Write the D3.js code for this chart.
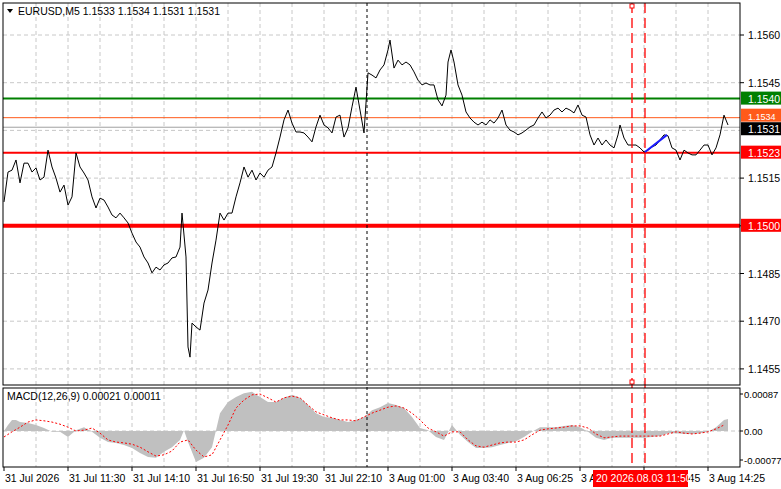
<!DOCTYPE html>
<html><head><meta charset="utf-8">
<script src="https://cdn.jsdelivr.net/npm/d3@7"></script>
<style>body{margin:0;background:#fff}svg{display:block;font-family:"Liberation Sans",Arial,sans-serif}</style>
</head><body><svg id="c" width="781" height="489"></svg>
<script>
const header = "EURUSD,M5  1.1533 1.1534 1.1531 1.1531";
const macdTitle = "MACD(12,26,9) 0.00021 0.00011";
const priceTicks = [1.1560,1.1545,1.1530,1.1515,1.1500,1.1485,1.1470,1.1455];
const macdTicks = [[87,"0.00087"],[0,"0.00"],[-77,"-0.00077"]];
const timeLabels = ["31 Jul 2026","31 Jul 11:30","31 Jul 14:10","31 Jul 16:50","31 Jul 19:30","31 Jul 22:10","3 Aug 01:00","3 Aug 03:40","3 Aug 06:25","3 Aug 09:05","3 Aug 11:45","3 Aug 14:25"];
const levels = [
 {p:1.1540,c:"#008000",w:2,lab:"1.1540",bg:"#008000",fg:"#fff"},
 {p:1.1534,c:"#ff5a1a",w:1,lab:"1.1534",bg:"#ff5a1a",fg:"#fff"},
 {p:1.1531,c:"#a0a0a0",w:1,lab:"1.1531",bg:"#000",fg:"#fff"},
 {p:1.1523,c:"#ff0000",w:2,lab:"1.1523",bg:"#ff0000",fg:"#fff"},
 {p:1.1500,c:"#ff0000",w:4,lab:"1.1500",bg:"#ff0000",fg:"#fff"}];
// [bar index, close]
const price = [[0,1.15075],[2,1.15169],[4,1.15175],[6,1.15207],[8,1.15135],[10,1.15197],[12,1.15197],[14,1.15169],[16,1.15182],[18,1.15144],[20,1.15153],[22,1.15238],[24,1.15185],[26,1.1515],[28,1.15106],[30,1.15128],[32,1.15065],[34,1.15091],[36,1.15229],[38,1.15185],[40,1.15166],[42,1.15144],[44,1.15091],[46,1.15056],[48,1.15087],[50,1.15081],[52,1.15059],[54,1.15034],[56,1.15025],[58,1.1504],[60,1.15025],[62,1.15009],[64,1.14977],[66,1.14949],[68,1.14933],[70,1.14902],[72,1.14883],[74,1.14852],[76,1.1487],[78,1.14861],[80,1.14877],[82,1.14883],[84,1.14899],[86,1.14902],[88,1.14933],
[89,1.1504],[91,1.14902],[92,1.14619],[93,1.14587],[94,1.14694],[96,1.14682],[98,1.14672],[100,1.14757],[102,1.14798],[104,1.14883],[106,1.14955],[108,1.1504],[110,1.15018],[112,1.1504],[114,1.1504],[116,1.15091],[118,1.15135],[120,1.15185],[122,1.15153],[124,1.15175],[126,1.15144],[128,1.15166],[130,1.15153],[132,1.15175],[134,1.15185],[136,1.15229],[138,1.15279],[140,1.15333],[142,1.15364],[144,1.15323],[146,1.15295],[148,1.15295],[150,1.15292],[152,1.15279],[154,1.15264],[156,1.15311],[158,1.15348],[160,1.15317],[162,1.15308],[164,1.15292],[166,1.15342],[168,1.15348],[170,1.15279],[172,1.15308],[174,1.15374],[176,1.15436],[178,1.15364],[180,1.15292],[182,1.15481],[184,1.15474],[186,1.15465],[188,1.1549],[190,1.15506],[192,1.15553],[193,1.15584],[195,1.15496],[197,1.15521],[199,1.15506],[201,1.15515],[203,1.15506],[205,1.15484],[207,1.15458],[209,1.15443],[211,1.15449],[213,1.15443],[215,1.15443],[217,1.15396],[219,1.15377],[221,1.15411],[222,1.15515],[223.5,1.15553],
[225,1.15515],[227,1.15443],[229,1.15411],[231,1.15358],[233,1.15339],[235,1.15326],[237,1.15317],[239,1.15326],[241,1.15317],[243,1.15333],[245,1.15323],[247,1.15339],[249,1.15364],[251,1.15317],[253,1.15301],[255,1.15295],[257,1.15286],[259,1.15292],[261,1.15301],[263,1.15311],[265,1.15317],[267,1.15339],[269,1.15358],[271,1.15339],[273,1.15348],[275,1.15364],[277,1.1537],[279,1.15358],[281,1.1537],[283,1.15364],[285,1.15355],[287,1.1538],[289,1.15348],[291,1.15342],[293,1.15286],[295,1.15254],[297,1.15276],[299,1.15254],[301,1.1527],[303,1.15254],[305,1.15245],
[307,1.15286],[308,1.15317],[310,1.15276],[312,1.15254],[314,1.15254],[316,1.15254],[318,1.15245],[320,1.15232],[322,1.15238],[324,1.15248],[326,1.15254],[328,1.1527],[330,1.15286],[332,1.15283],[334,1.15245],[336,1.15238],[338,1.15207],[340,1.15238],[342,1.15229],[344,1.15223],[346,1.15223],[348,1.15238],[350,1.15254],[352,1.15254],[354,1.15223],[356,1.15245],[358,1.15286],[360,1.15348],[362,1.15317]];
const blueLine = [[320.5,1.15232],[331.5,1.15286]];
// MACD in units of 1e-5
const hist = [[0,0],[2,14],[4,26],[6,26],[8,21],[12,19],[16,14],[20,7],[24,-2],[28,-2],[32,-14],[36,2],[40,9],[44,-2],[48,-16],[52,-26],[56,-28],[60,-33],[64,-40],[68,-52],[72,-61],[76,-63],[80,-49],[84,-38],[88,-21],[90,2],[92,-26],[96,-73],[100,-63],[104,-38],[106,2],[108,42],[112,68],[116,80],[120,89],[124,92],[128,80],[132,68],[136,68],[140,78],[144,85],[148,78],[152,61],[156,42],[160,33],[164,31],[168,26],[172,21],[176,26],[180,33],[184,49],[188,56],[192,66],[196,61],[200,54],[204,33],[208,7],[212,2],[216,-14],[220,-21],[224,14],[228,-9],[232,-26],[236,-40],[240,-40],[244,-38],[248,-33],[252,-28],[256,-24],[260,-14],[264,-2],[268,9],[272,9],[276,9],[280,12],[284,14],[288,9],[292,-2],[296,-16],[300,-21],[304,-16],[308,-16],[312,-16],[316,-16],[320,-16],[324,-14],[328,-12],[332,-5],[336,-5],[340,-7],[344,-7],[348,-5],[352,-2],[356,9],[360,26],[362,28]];
const signal = [[0,-14],[4,-2],[8,9],[12,21],[16,26],[20,24],[24,21],[28,16],[32,9],[36,0],[40,2],[44,7],[48,-5],[52,-21],[56,-26],[60,-28],[64,-31],[68,-38],[72,-49],[76,-59],[80,-56],[84,-47],[88,-26],[92,-21],[96,-45],[100,-61],[104,-56],[108,-21],[112,14],[116,54],[120,73],[124,85],[128,87],[132,78],[136,68],[140,78],[144,82],[148,78],[152,61],[156,45],[160,38],[164,31],[168,26],[172,26],[176,24],[180,33],[184,42],[188,49],[192,56],[196,59],[200,54],[204,42],[208,26],[212,7],[216,-2],[220,-12],[224,-2],[228,-2],[232,-21],[236,-35],[240,-38],[244,-33],[248,-28],[252,-26],[256,-26],[260,-21],[264,-9],[268,2],[272,5],[276,7],[280,9],[284,12],[288,12],[292,7],[296,-7],[300,-16],[304,-14],[308,-12],[312,-12],[316,-12],[320,-12],[324,-12],[328,-12],[332,-7],[336,-2],[340,-5],[344,-7],[348,-5],[352,-2],[356,5],[360,14]];
const vlinesRed = [314, 320.5];
const vlineBlack = 181.5;
const timeBox = "20 2026.08.03 11:50";

const svg = d3.select("#c");
const L=3,R=740,T=3,B1=385,T2=388,B2=467;
const x = d3.scaleLinear().domain([0,368]).range([4,740]);
const y = d3.scaleLinear().domain([1.1560,1.1455]).range([35,368.9]);
const ym = d3.scaleLinear().domain([87,0]).range([394,431]);
const grid = "#c8c8c8";
for(let b=16;b<368;b+=16){
  svg.append("line").attr("x1",x(b)).attr("x2",x(b)).attr("y1",T).attr("y2",B1).attr("stroke",grid).attr("stroke-dasharray","4,3");
  svg.append("line").attr("x1",x(b)).attr("x2",x(b)).attr("y1",T2).attr("y2",B2).attr("stroke",grid).attr("stroke-dasharray","4,3");
}
priceTicks.forEach(p=>svg.append("line").attr("x1",L).attr("x2",R).attr("y1",y(p)).attr("y2",y(p)).attr("stroke",grid).attr("stroke-dasharray","4,3"));
svg.append("line").attr("x1",L).attr("x2",R).attr("y1",ym(0)).attr("y2",ym(0)).attr("stroke",grid).attr("stroke-dasharray","4,3");
levels.forEach(l=>svg.append("line").attr("x1",L).attr("x2",R).attr("y1",y(l.p)).attr("y2",y(l.p)).attr("stroke",l.c).attr("stroke-width",l.w));
svg.append("path").datum(hist).attr("d",d3.area().x(d=>x(d[0])).y0(ym(0)).y1(d=>ym(d[1]))).attr("fill","#c0c0c0");
svg.append("path").datum(signal).attr("d",d3.line().x(d=>x(d[0])).y(d=>ym(d[1]))).attr("fill","none").attr("stroke","#ff0000").attr("stroke-dasharray","2,2");
svg.append("path").datum(price).attr("d",d3.line().x(d=>x(d[0])).y(d=>y(d[1]))).attr("fill","none").attr("stroke","#000").attr("stroke-width",1);
svg.append("path").datum(blueLine).attr("d",d3.line().x(d=>x(d[0])).y(d=>y(d[1]))).attr("fill","none").attr("stroke","#1a1aff").attr("stroke-width",2);
svg.append("line").attr("x1",x(vlineBlack)).attr("x2",x(vlineBlack)).attr("y1",T).attr("y2",B2).attr("stroke","#000").attr("stroke-dasharray","3,3");
vlinesRed.forEach(v=>svg.append("line").attr("x1",x(v)).attr("x2",x(v)).attr("y1",T).attr("y2",B2).attr("stroke","#ff0000").attr("stroke-width",1.3).attr("stroke-dasharray","10,5"));
[T+1,B1-5].forEach(yy=>svg.append("rect").attr("x",x(vlinesRed[0])-2).attr("y",yy).attr("width",4).attr("height",4).attr("fill","#fff").attr("stroke","#ff0000"));
svg.append("rect").attr("x",L).attr("y",T).attr("width",R-L).attr("height",B1-T).attr("fill","none").attr("stroke","#000");
svg.append("rect").attr("x",L).attr("y",T2).attr("width",R-L).attr("height",B2-T2).attr("fill","none").attr("stroke","#000");
priceTicks.filter(p=>p!==1.1530).forEach(p=>{
  svg.append("line").attr("x1",R).attr("x2",R+4).attr("y1",y(p)).attr("y2",y(p)).attr("stroke","#000");
  svg.append("text").attr("x",R+8).attr("y",y(p)+4).attr("font-size",10.5).text(p.toFixed(4));
});
levels.forEach(l=>{
  const off = l.lab==="1.1534"?-2:(l.lab==="1.1531"?2:0);
  svg.append("rect").attr("x",R+1).attr("y",y(l.p)-7+off).attr("width",40).attr("height",13).attr("fill",l.bg);
  svg.append("text").attr("x",R+8).attr("y",y(l.p)+4+off).attr("font-size",l.lab==="1.1534"?9:10.5).attr("fill",l.fg).text(l.lab);
});
macdTicks.forEach(([v,t])=>{
  const yy = v<0?460:ym(v);
  svg.append("line").attr("x1",R).attr("x2",R+3).attr("y1",yy).attr("y2",yy).attr("stroke","#000");
  svg.append("text").attr("x",R+4).attr("y",yy+4).attr("font-size",9.5).text(t);
});
timeLabels.forEach((t,i)=>{
  const b=i*32;
  svg.append("line").attr("x1",x(b)).attr("x2",x(b)).attr("y1",B2).attr("y2",B2+4).attr("stroke","#000");
  svg.append("text").attr("x",x(b)+1).attr("y",482).attr("font-size",10.5).text(t);
});
svg.append("rect").attr("x",593).attr("y",470).attr("width",95).attr("height",17).attr("fill","#ff0000");
svg.append("text").attr("x",596).attr("y",482).attr("font-size",10.5).attr("fill","#fff").text(timeBox);
svg.append("path").attr("d","M7,9 L13,9 L10,13 Z").attr("fill","#000");
svg.append("text").attr("x",18).attr("y",15).attr("font-size",10.5).text(header);
svg.append("text").attr("x",7).attr("y",400).attr("font-size",10.5).text(macdTitle);
</script></body></html>
